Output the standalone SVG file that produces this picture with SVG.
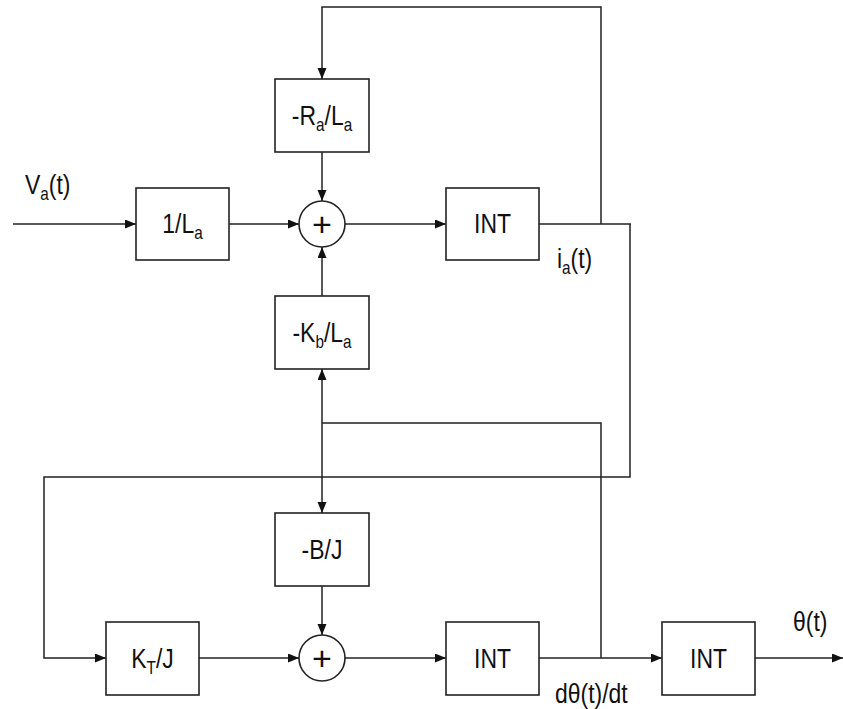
<svg xmlns="http://www.w3.org/2000/svg" width="843" height="709" viewBox="0 0 843 709">
<style>
.box{fill:#fff;stroke:#222;stroke-width:1.6}
.sum{fill:#fff;stroke:#222;stroke-width:1.6}
.wire{fill:none;stroke:#222;stroke-width:1.5}
.lbl{font-family:"Liberation Sans",Arial,sans-serif;font-size:27px;fill:#111}
.sub{font-size:18px}
.plus{font-family:"Liberation Sans",Arial,sans-serif;font-size:34px;fill:#111;text-anchor:middle}
</style>
<defs>
<marker id="arr" markerUnits="userSpaceOnUse" markerWidth="12" markerHeight="10" refX="11" refY="4.5" orient="auto">
<path d="M0,0 L11,4.5 L0,9 z" fill="#111"/>
</marker>
</defs>
<rect width="843" height="709" fill="#fff"/>
<g id="connectors">
<path class="wire" d="M13,224 H136" marker-end="url(#arr)"/>
<path class="wire" d="M229,224 H299" marker-end="url(#arr)"/>
<path class="wire" d="M345,224 H446" marker-end="url(#arr)"/>
<path class="wire" d="M539,224 H631 M630,224 V477 H44 V658 H106" marker-end="url(#arr)"/>
<path class="wire" d="M601,224 V7 H322 V79" marker-end="url(#arr)"/>
<path class="wire" d="M322,152 V201" marker-end="url(#arr)"/>
<path class="wire" d="M322,296 V247" marker-end="url(#arr)"/>
<path class="wire" d="M601,658 V423 H322"/>
<path class="wire" d="M322,423 V369" marker-end="url(#arr)"/>
<path class="wire" d="M322,423 V513" marker-end="url(#arr)"/>
<path class="wire" d="M322,586 V635" marker-end="url(#arr)"/>
<path class="wire" d="M199,658 H299" marker-end="url(#arr)"/>
<path class="wire" d="M345,658 H446" marker-end="url(#arr)"/>
<path class="wire" d="M539,658 H662" marker-end="url(#arr)"/>
<path class="wire" d="M755,658 H843" marker-end="url(#arr)"/>
</g>
<g id="n_RaLa">
<rect class="box" x="275" y="79" width="94" height="73"/>
<text class="lbl" text-anchor="middle" transform="translate(322,124.5) scale(0.85,1)">-R<tspan class="sub" dy="6">a</tspan><tspan dy="-6">/L</tspan><tspan class="sub" dy="6">a</tspan></text>
</g>
<g id="n_1La">
<rect class="box" x="136" y="188" width="93" height="72"/>
<text class="lbl" text-anchor="middle" transform="translate(182.5,233) scale(0.85,1)">1/L<tspan class="sub" dy="6">a</tspan></text>
</g>
<g id="n_sum1">
<circle class="sum" cx="322" cy="224" r="23"/>
<text class="plus" x="322" y="236">+</text>
</g>
<g id="n_int1">
<rect class="box" x="446" y="188" width="93" height="72"/>
<text class="lbl" text-anchor="middle" transform="translate(492.5,233) scale(0.85,1)">INT</text>
</g>
<g id="n_KbLa">
<rect class="box" x="275" y="296" width="94" height="73"/>
<text class="lbl" text-anchor="middle" transform="translate(322,341.5) scale(0.85,1)">-K<tspan class="sub" dy="6">b</tspan><tspan dy="-6">/L</tspan><tspan class="sub" dy="6">a</tspan></text>
</g>
<g id="n_BJ">
<rect class="box" x="275" y="513" width="94" height="73"/>
<text class="lbl" text-anchor="middle" transform="translate(322,558.5) scale(0.85,1)">-B/J</text>
</g>
<g id="n_KTJ">
<rect class="box" x="106" y="622" width="93" height="73"/>
<text class="lbl" text-anchor="middle" transform="translate(152.5,667.5) scale(0.85,1)">K<tspan class="sub" dy="6">T</tspan><tspan dy="-6">/J</tspan></text>
</g>
<g id="n_sum2">
<circle class="sum" cx="322" cy="658" r="23"/>
<text class="plus" x="322" y="670">+</text>
</g>
<g id="n_int2">
<rect class="box" x="446" y="622" width="93" height="73"/>
<text class="lbl" text-anchor="middle" transform="translate(492.5,667.5) scale(0.85,1)">INT</text>
</g>
<g id="n_int3">
<rect class="box" x="662" y="622" width="93" height="73"/>
<text class="lbl" text-anchor="middle" transform="translate(708.5,667.5) scale(0.85,1)">INT</text>
</g>
<g id="labels">
<text class="lbl" transform="translate(25,194) scale(0.85,1)">V<tspan class="sub" dy="6">a</tspan><tspan dy="-6">(t)</tspan></text>
<text class="lbl" transform="translate(557,268) scale(0.85,1)">i<tspan class="sub" dy="6">a</tspan><tspan dy="-6">(t)</tspan></text>
<text class="lbl" transform="translate(793,631) scale(0.85,1)">θ(t)</text>
<text class="lbl" transform="translate(555,703) scale(0.85,1)">dθ(t)/dt</text>
</g>
</svg>
